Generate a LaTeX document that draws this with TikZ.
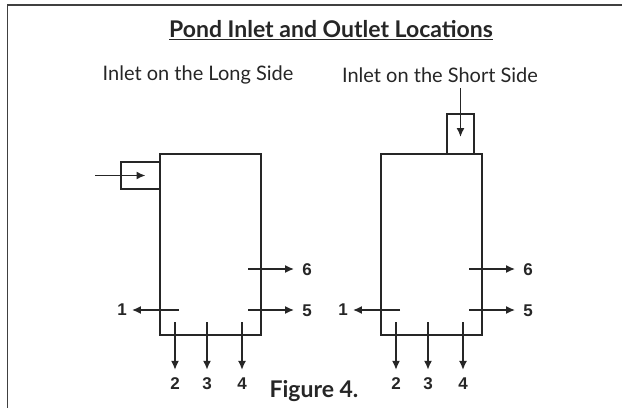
\documentclass[tikz,border=0pt]{standalone}
\usepackage{fontspec}
\setmainfont{Lato}
\newfontfamily\numfont{Liberation Sans}
\usepackage{tikz}
\usetikzlibrary{positioning,arrows.meta}
\definecolor{inkgray}{HTML}{262626}

\begin{document}
\begin{tikzpicture}[x=1pt, y=-1pt,
    pondBox/.style={rectangle, draw=inkgray, line width=2pt, minimum width=101pt, minimum height=181pt, inner sep=0pt},
    inletBox/.style={rectangle, draw=inkgray, line width=2pt, inner sep=0pt},
    flowArrow/.style={draw=inkgray, line width=1.6pt, -{Latex[length=9pt,width=8pt]}},
    outArrow/.style={flowArrow, shorten >=7pt},
    outNum/.style={font=\numfont\fontsize{17}{17}\selectfont\bfseries, inner sep=1pt, text=inkgray},
    headText/.style={font=\fontsize{20}{20}\selectfont, text=inkgray}
]
    \useasboundingbox (0,0) rectangle (622,408);
    \draw[line width=1.5pt, black!75] (622,5) -- (7.5,5) -- (7.5,408);

    % titles
    \node[headText, font=\fontsize{23}{23}\selectfont\bfseries] (title) at (331,30) {\underline{Pond Inlet and Outlet Locations}};
    \node[headText] (longT) at (198,75) {Inlet on the Long Side};
    \node[headText] (shortT) at (440,75) {Inlet on the Short Side};
    \node[headText, font=\fontsize{23}{23}\selectfont\bfseries] (fig) at (314,391) {Figure 4.};

    % inlet on the long side
    \node[pondBox] (pondL) at (210.5,244.5) {};
    \node[inletBox, minimum width=39pt, minimum height=27pt] (boxL) at (140.5,175.5) {};
    \coordinate (inL) at (95,175.5);
    \draw[flowArrow] (inL) -- ([xshift=5pt]boxL.center);

    \node[outNum] (l6) at (307,270) {6};
    \node[outNum] (l5) at (307,311) {5};
    \node[outNum] (l1) at (122,310) {1};
    \node[outNum] (l2) at (175,384) {2};
    \node[outNum] (l3) at (207,384) {3};
    \node[outNum] (l4) at (242,384) {4};
    \coordinate (l6s) at (248,269);
    \coordinate (l5s) at (248,310);
    \coordinate (l1s) at (179,310);
    \coordinate (l2s) at (175,322);
    \coordinate (l3s) at (207,322);
    \coordinate (l4s) at (242,322);
    \draw[outArrow] (l6s) -- (l6s -| l6.west);
    \draw[outArrow] (l5s) -- (l5s -| l5.west);
    \draw[outArrow, shorten >=4pt] (l1s) -- (l1s -| l1.east);
    \draw[outArrow] (l2s) -- (l2);
    \draw[outArrow] (l3s) -- (l3);
    \draw[outArrow] (l4s) -- (l4);

    % inlet on the short side
    \node[pondBox] (pondR) at (431,244.5) {};
    \node[inletBox, minimum width=27pt, minimum height=40pt] (boxR) at (460.5,134) {};
    \coordinate (inR) at (460.5,88);
    \draw[flowArrow] (inR) -- ([yshift=-3pt]boxR.center);

    \node[outNum] (r6) at (528,270) {6};
    \node[outNum] (r5) at (528,311) {5};
    \node[outNum] (r1) at (343,310) {1};
    \node[outNum] (r2) at (396,384) {2};
    \node[outNum] (r3) at (428,384) {3};
    \node[outNum] (r4) at (463,384) {4};
    \coordinate (r6s) at (469,269);
    \coordinate (r5s) at (469,310);
    \coordinate (r1s) at (400,310);
    \coordinate (r2s) at (396,322);
    \coordinate (r3s) at (428,322);
    \coordinate (r4s) at (463,322);
    \draw[outArrow] (r6s) -- (r6s -| r6.west);
    \draw[outArrow] (r5s) -- (r5s -| r5.west);
    \draw[outArrow, shorten >=4pt] (r1s) -- (r1s -| r1.east);
    \draw[outArrow] (r2s) -- (r2);
    \draw[outArrow] (r3s) -- (r3);
    \draw[outArrow] (r4s) -- (r4);
\end{tikzpicture}
\end{document}
